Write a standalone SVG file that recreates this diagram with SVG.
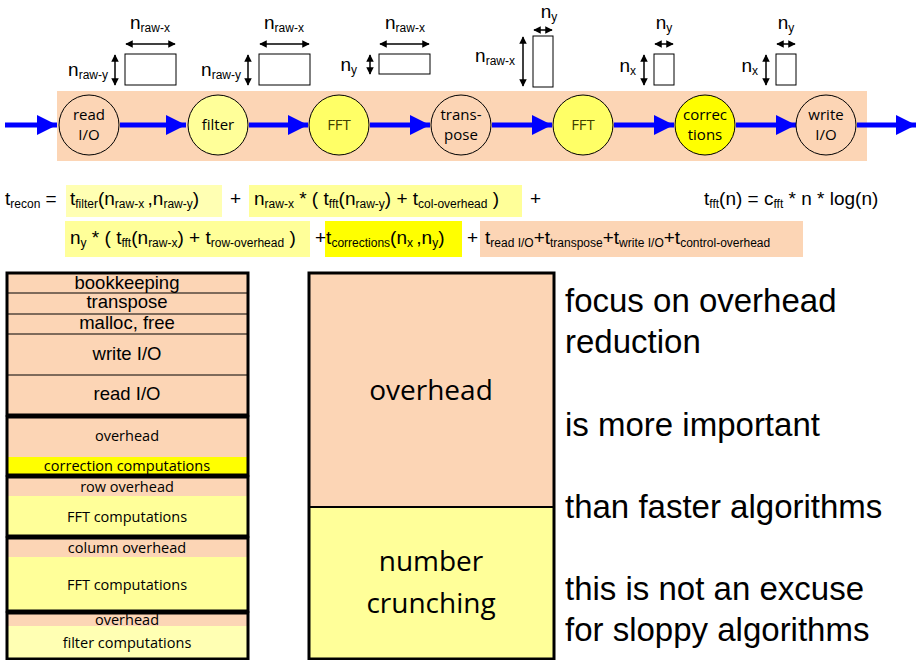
<svg xmlns="http://www.w3.org/2000/svg" width="920" height="660" viewBox="0 0 920 660">
<style>
.a{font-family:"Liberation Sans",Arial,sans-serif}
.c{font-family:"Open Sans","Noto Sans",sans-serif}
.n{font-family:"Liberation Sans",Arial,sans-serif;font-size:19px}
.s{font-size:12px}
.f{font-family:"Liberation Sans",Arial,sans-serif;font-size:19px}
.fs{font-size:12px}
.blk{stroke:#000;stroke-width:1;fill:none}
.dim{stroke:#000;stroke-width:1.5;fill:none;marker-start:url(#dh);marker-end:url(#dh)}
.circ{stroke:#000;stroke-width:1}
.p{fill:#fcd5b5}.y{fill:#ffff99}.Y{fill:#ffff00}.py{fill:#ffffb3}
</style>
<defs>
<marker id="dh" viewBox="0 0 10 10" refX="9" refY="5" markerWidth="5" markerHeight="5" orient="auto-start-reverse"><path d="M0,0L10,5L0,10z" fill="#000"/></marker>
<marker id="ba" viewBox="0 0 10 10" refX="10" refY="5" markerWidth="5" markerHeight="4" orient="auto" markerUnits="strokeWidth"><path d="M0,0L10,5L0,10z" fill="#0000ff"/></marker>
</defs>
<rect x="57" y="91" width="810" height="70" class="p"/>
<g id="connectors" stroke="#0000ff" stroke-width="5" fill="none">
<line x1="5" y1="125" x2="57" y2="125" marker-end="url(#ba)"/>
<line x1="120" y1="125" x2="186" y2="125" marker-end="url(#ba)"/>
<line x1="249" y1="125" x2="308" y2="125" marker-end="url(#ba)"/>
<line x1="370" y1="125" x2="430" y2="125" marker-end="url(#ba)"/>
<line x1="492" y1="125" x2="552" y2="125" marker-end="url(#ba)"/>
<line x1="614" y1="125" x2="674" y2="125" marker-end="url(#ba)"/>
<line x1="736" y1="125" x2="796" y2="125" marker-end="url(#ba)"/>
<line x1="857" y1="125" x2="916" y2="125" marker-end="url(#ba)"/>
</g>
<g id="n1"><circle cx="89" cy="125" r="30" class="circ p"/><text class="c" font-size="15" text-anchor="middle" x="89" y="120">read</text><text class="c" font-size="15" text-anchor="middle" x="89" y="140">I/O</text></g>
<g id="n2"><circle cx="218" cy="125" r="30" class="circ y"/><text class="c" font-size="15" text-anchor="middle" x="218" y="130">filter</text></g>
<g id="n3"><circle cx="339" cy="125" r="30" class="circ" fill="#ffff66"/><text class="c" font-size="15" text-anchor="middle" x="339" y="130" fill="#404000">FFT</text></g>
<g id="n4"><circle cx="461" cy="125" r="30" class="circ p"/><text class="c" font-size="15" text-anchor="middle" x="461" y="120">trans-</text><text class="c" font-size="15" text-anchor="middle" x="461" y="140">pose</text></g>
<g id="n5"><circle cx="583" cy="125" r="30" class="circ" fill="#ffff66"/><text class="c" font-size="15" text-anchor="middle" x="583" y="130" fill="#404000">FFT</text></g>
<g id="n6"><circle cx="705" cy="125" r="30" class="circ Y"/><text class="c" font-size="15" text-anchor="middle" x="705" y="120">correc</text><text class="c" font-size="15" text-anchor="middle" x="705" y="140">tions</text></g>
<g id="n7"><circle cx="826" cy="125" r="30" class="circ p"/><text class="c" font-size="15" text-anchor="middle" x="826" y="120">write</text><text class="c" font-size="15" text-anchor="middle" x="826" y="140">I/O</text></g>

<g id="dims">
<rect x="125" y="54" width="51" height="31" class="blk" fill="#fff"/>
<line x1="126" y1="44" x2="175" y2="44" class="dim"/><line x1="115" y1="55" x2="115" y2="85" class="dim"/>
<text class="n" x="150" y="29" text-anchor="middle">n<tspan class="s" dy="3">raw-x</tspan></text>
<text class="n" x="108" y="76" text-anchor="end">n<tspan class="s" dy="3">raw-y</tspan></text>

<rect x="259" y="54" width="51" height="31" class="blk" fill="#fff"/>
<line x1="260" y1="44" x2="309" y2="44" class="dim"/><line x1="248" y1="55" x2="248" y2="85" class="dim"/>
<text class="n" x="284" y="29" text-anchor="middle">n<tspan class="s" dy="3">raw-x</tspan></text>
<text class="n" x="241" y="76" text-anchor="end">n<tspan class="s" dy="3">raw-y</tspan></text>

<rect x="379" y="54" width="51" height="20" class="blk" fill="#fff"/>
<line x1="380" y1="44" x2="429" y2="44" class="dim"/><line x1="370" y1="55" x2="370" y2="74" class="dim"/>
<text class="n" x="405" y="29" text-anchor="middle">n<tspan class="s" dy="3">raw-x</tspan></text>
<text class="n" x="357" y="71" text-anchor="end">n<tspan class="s" dy="3">y</tspan></text>

<rect x="533" y="36" width="20" height="51" class="blk" fill="#fff"/>
<line x1="534" y1="30" x2="552" y2="30" class="dim"/><line x1="523" y1="37" x2="523" y2="86" class="dim"/>
<text class="n" x="549" y="18" text-anchor="middle">n<tspan class="s" dy="3">y</tspan></text>
<text class="n" x="515" y="62" text-anchor="end">n<tspan class="s" dy="3">raw-x</tspan></text>

<rect x="654" y="54" width="20" height="31" class="blk" fill="#fff"/>
<line x1="655" y1="44" x2="673" y2="44" class="dim"/><line x1="644" y1="55" x2="644" y2="85" class="dim"/>
<text class="n" x="664" y="29" text-anchor="middle">n<tspan class="s" dy="3">y</tspan></text>
<text class="n" x="636" y="72" text-anchor="end">n<tspan class="s" dy="3">x</tspan></text>

<rect x="776" y="54" width="20" height="31" class="blk" fill="#fff"/>
<line x1="777" y1="44" x2="795" y2="44" class="dim"/><line x1="766" y1="55" x2="766" y2="85" class="dim"/>
<text class="n" x="786" y="29" text-anchor="middle">n<tspan class="s" dy="3">y</tspan></text>
<text class="n" x="758" y="72" text-anchor="end">n<tspan class="s" dy="3">x</tspan></text>
</g>

<g id="formula">
<rect x="66" y="185" width="156" height="32" class="py"/>
<rect x="249" y="185" width="273" height="32" class="y"/>
<rect x="65" y="221" width="245" height="36" class="y"/>
<rect x="325" y="221" width="137" height="36" class="Y"/>
<rect x="480" y="221" width="323" height="36" class="p"/>
<text class="f" x="5" y="205">t<tspan class="fs" dy="3">recon</tspan><tspan dy="-3"> = </tspan></text>
<text class="f" x="70" y="205">t<tspan class="fs" dy="3">filter</tspan><tspan dy="-3">(n</tspan><tspan class="fs" dy="3">raw-x </tspan><tspan dy="-3">,n</tspan><tspan class="fs" dy="3">raw-y</tspan><tspan dy="-3">)</tspan></text>
<text class="f" x="230" y="205">+</text>
<text class="f" x="254" y="205">n<tspan class="fs" dy="3">raw-x</tspan><tspan dy="-3"> * ( t</tspan><tspan class="fs" dy="3">fft</tspan><tspan dy="-3">(n</tspan><tspan class="fs" dy="3">raw-y</tspan><tspan dy="-3">) +   t</tspan><tspan class="fs" dy="3">col-overhead</tspan><tspan dy="-3"> )</tspan></text>
<text class="f" x="530" y="205">+</text>
<text class="f" x="704" y="205">t<tspan class="fs" dy="3">fft</tspan><tspan dy="-3">(n) = c</tspan><tspan class="fs" dy="3">fft</tspan><tspan dy="-3"> * n * log(n)</tspan></text>
<text class="f" x="70" y="244">n<tspan class="fs" dy="3">y</tspan><tspan dy="-3"> * ( t</tspan><tspan class="fs" dy="3">fft</tspan><tspan dy="-3">(n</tspan><tspan class="fs" dy="3">raw-x</tspan><tspan dy="-3">) + t</tspan><tspan class="fs" dy="3">row-overhead</tspan><tspan dy="-3"> )</tspan></text>
<text class="f" x="315" y="244">+t<tspan class="fs" dy="3">corrections</tspan><tspan dy="-3">(n</tspan><tspan class="fs" dy="3">x </tspan><tspan dy="-3">,n</tspan><tspan class="fs" dy="3">y</tspan><tspan dy="-3">)</tspan></text>
<text class="f" x="467" y="244">+</text>
<text class="f" x="485" y="244">t<tspan class="fs" dy="3">read I/O</tspan><tspan dy="-3">+t</tspan><tspan class="fs" dy="3">transpose</tspan><tspan dy="-3">+t</tspan><tspan class="fs" dy="3">write I/O</tspan><tspan dy="-3">+t</tspan><tspan class="fs" dy="3">control-overhead</tspan></text>
</g>

<g id="stack">
<rect x="7" y="273" width="241" height="142" class="p"/>
<g stroke="#000" stroke-width="1"><line x1="7" y1="293" x2="248" y2="293"/><line x1="7" y1="314" x2="248" y2="314"/><line x1="7" y1="334" x2="248" y2="334"/><line x1="7" y1="375" x2="248" y2="375"/></g>
<rect x="7" y="273" width="241" height="142" fill="none" stroke="#000" stroke-width="3"/>
<g class="a" font-size="18.5" text-anchor="middle">
<text x="127" y="289">bookkeeping</text><text x="127" y="308">transpose</text><text x="127" y="329">malloc, free</text><text x="127" y="360">write I/O</text><text x="127" y="400">read I/O</text></g>
<rect x="7" y="417" width="241" height="40" class="p"/><rect x="7" y="457" width="241" height="18" class="Y"/>
<rect x="7" y="417" width="241" height="58" fill="none" stroke="#000" stroke-width="3"/>
<rect x="7" y="477" width="241" height="19" class="p"/><rect x="7" y="496" width="241" height="40" class="y"/>
<rect x="7" y="477" width="241" height="59" fill="none" stroke="#000" stroke-width="3"/>
<rect x="7" y="538" width="241" height="19" class="p"/><rect x="7" y="557" width="241" height="54" class="y"/>
<rect x="7" y="538" width="241" height="73" fill="none" stroke="#000" stroke-width="3"/>
<rect x="7" y="613" width="241" height="13" class="p"/><rect x="7" y="626" width="241" height="33" class="py"/>
<rect x="7" y="613" width="241" height="46" fill="none" stroke="#000" stroke-width="3"/>
<g class="c" font-size="14.5" text-anchor="middle">
<text x="127" y="441">overhead</text><text x="127" y="471">correction computations</text>
<text x="127" y="492">row overhead</text><text x="127" y="522">FFT computations</text>
<text x="127" y="553">column overhead</text><text x="127" y="590">FFT computations</text>
<text x="127" y="625">overhead</text><text x="127" y="648">filter computations</text></g>
</g>

<g id="summary">
<rect x="309" y="273" width="245" height="234" class="p"/><rect x="309" y="507" width="245" height="152" class="y"/>
<line x1="309" y1="507" x2="554" y2="507" stroke="#000" stroke-width="2"/>
<rect x="309" y="273" width="245" height="386" fill="none" stroke="#000" stroke-width="3"/>
<g class="c" font-size="28" text-anchor="middle"><text x="431" y="400">overhead</text><text x="431" y="571">number</text><text x="431" y="613">crunching</text></g>
</g>
<g id="notes" class="a" font-size="33"><text x="565" y="312">focus on overhead</text><text x="565" y="353">reduction</text><text x="565" y="436">is more important</text><text x="565" y="518">than faster algorithms</text><text x="565" y="600">this is not an excuse</text><text x="565" y="641">for sloppy algorithms</text></g>
</svg>
